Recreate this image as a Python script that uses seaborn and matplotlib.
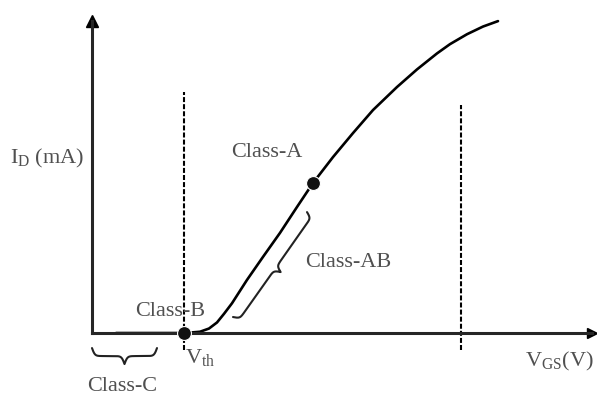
import numpy as np
import matplotlib
matplotlib.use("Agg")
import matplotlib.pyplot as plt
import seaborn as sns
import pandas as pd

# transfer characteristic I_D vs V_GS (arbitrary units)
vgs = [0.48, 1.86, 2.16, 2.34, 2.50, 2.64, 2.80, 3.10, 3.42, 3.76, 4.10, 4.42,
       4.82, 5.22, 5.62, 6.10, 6.50, 6.90, 7.16, 7.50, 7.82, 8.12]
i_d = [0.00, 0.00, 0.04, 0.14, 0.33, 0.60, 0.93, 1.66, 2.38, 3.13, 3.94, 4.69,
       5.50, 6.25, 6.97, 7.69, 8.24, 8.74, 9.03, 9.34, 9.58, 9.75]

# bias points
bias_names = ["Class-B", "Class-A"]
bias_vgs = [1.84, 4.42]
bias_id = [0.00, 4.69]

v_th = 1.84
v_max = 7.38

sns.set_style("white")
plt.rcParams["font.family"] = ["Liberation Serif", "DejaVu Serif"]
plt.rcParams["mathtext.fontset"] = "custom"
plt.rcParams["mathtext.rm"] = "Liberation Serif"
plt.rcParams["mathtext.it"] = "Liberation Serif:italic"

fig = plt.figure(figsize=(5.97, 3.97), dpi=100)
ax = fig.add_axes([0, 0, 1, 1])
ax.set_xlim(-1.84, 10.1)
ax.set_ylim(-2.0, 10.41)

df = pd.DataFrame({"VGS": vgs, "ID": i_d})
sns.lineplot(data=df, x="VGS", y="ID", color="black", lw=1.9, sort=False, ax=ax,
             solid_joinstyle="round", solid_capstyle="round")
bias = pd.DataFrame({"VGS": bias_vgs, "ID": bias_id, "name": bias_names})
sns.scatterplot(data=bias, x="VGS", y="ID", color="#111111", s=100, zorder=5, ax=ax)

# dashed limits
ax.vlines(v_th, -0.53, 7.53, colors="black", linestyles=(0, (2.4, 1.0)), lw=1.5)
ax.vlines(v_max, -0.53, 7.13, colors="black", linestyles=(0, (2.4, 1.0)), lw=1.5)

# axes with arrows
for s in ["top", "right"]:
    ax.spines[s].set_visible(False)
ax.spines["left"].set_position(("data", 0))
ax.spines["bottom"].set_position(("data", 0))
ax.spines["left"].set_bounds(0, 9.75)
ax.spines["bottom"].set_bounds(0, 10.0)
ax.spines["left"].set_linewidth(2.2)
ax.spines["bottom"].set_linewidth(2.2)
ax.plot(0, 9.75, marker="^", color="black", ms=8, clip_on=False)
ax.plot(10.0, 0, marker=">", color="black", ms=7, clip_on=False)
ax.set_xticks([])
ax.set_yticks([])
ax.set_xlabel("")
ax.set_ylabel("")


def brace(p0, p1, w, k=0.35):
    # curly brace between two data points, bulging w pixels to the right of p0->p1
    a = ax.transData.transform(p0)
    b = ax.transData.transform(p1)
    d = b - a
    L = np.hypot(*d)
    e = d / L
    n = np.array([e[1], -e[0]])
    half = L / 2
    u = np.linspace(0, half, 80)
    v = w / 2 * (np.tanh(k * u) + 1 + np.tanh(k * (u - half)))
    u = np.concatenate([u, L - u[::-1]])
    v = np.concatenate([v, v[::-1]])
    pts = a + np.outer(u, e) + np.outer(v, n)
    dat = ax.transData.inverted().transform(pts)
    ax.plot(dat[:, 0], dat[:, 1], color="#222222", lw=1.5, clip_on=False)


brace((0.0, -0.47), (1.3, -0.47), 16)
brace((2.82, 0.5), (4.30, 3.78), 13)

tc = "#505050"
fs = 16
ax.text(-0.9, 5.47, "I$_{\\rm D}$ (mA)", color=tc, fontsize=fs, ha="center", va="center")
ax.text(3.5, 5.63, "Class-A", color=tc, fontsize=fs, ha="center", va="center")
ax.text(5.12, 2.19, "Class-AB", color=tc, fontsize=fs, ha="center", va="center")
ax.text(1.56, 0.66, "Class-B", color=tc, fontsize=fs, ha="center", va="center")
ax.text(0.6, -1.66, "Class-C", color=tc, fontsize=fs, ha="center", va="center")
ax.text(1.86, -0.75, "V$_{\\rm th}$", color=tc, fontsize=fs, ha="left", va="center")
ax.text(9.34, -0.88, "V$_{\\rm GS}$(V)", color=tc, fontsize=fs, ha="center", va="center")

fig.savefig("out.png", dpi=100)
